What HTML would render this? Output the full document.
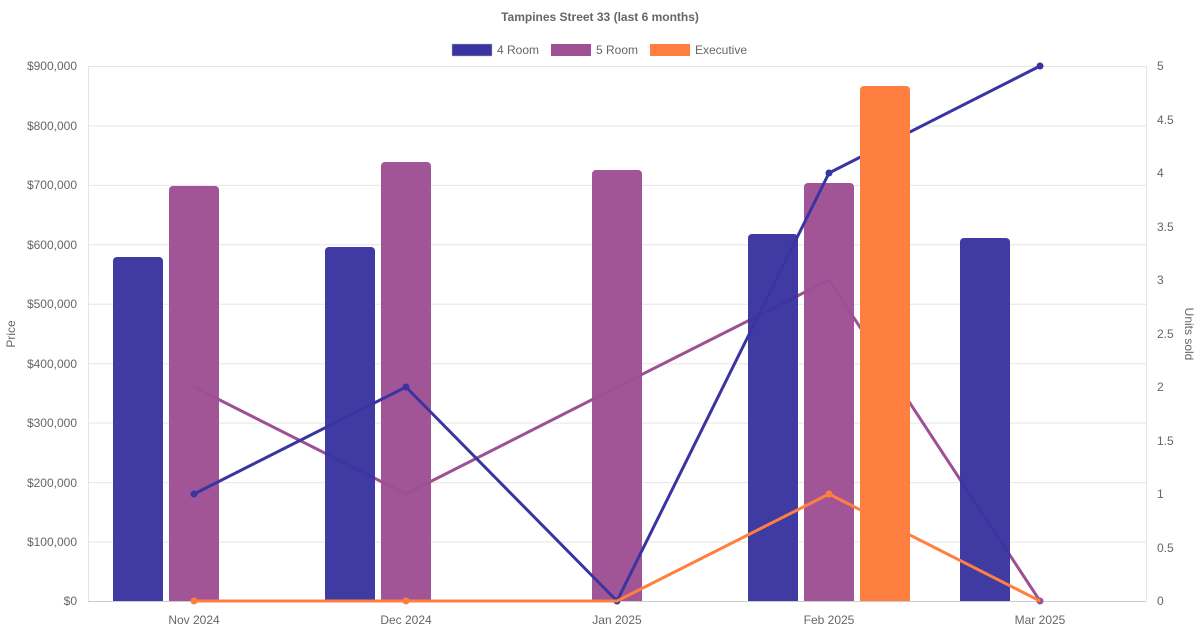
<!DOCTYPE html>
<html><head><meta charset="utf-8"><style>
body{margin:0;background:#fff}
svg{display:block;font-family:"Liberation Sans",sans-serif}
</style></head><body>
<svg width="1200" height="630" xmlns="http://www.w3.org/2000/svg">
<rect width="1200" height="630" fill="#fff"/>
<text x="600" y="21" text-anchor="middle" font-size="12" font-weight="bold" fill="#666">Tampines Street 33 (last 6 months)</text>
<g font-size="12" fill="#666">
<rect x="452" y="44" width="40" height="12" fill="#3a34a0" stroke="#bbb" stroke-width="0.5"/><text x="497" y="54">4 Room</text>
<rect x="551" y="44" width="40" height="12" fill="#9e5094"/><text x="596" y="54">5 Room</text>
<rect x="650" y="44" width="40" height="12" fill="#ff7f41"/><text x="695" y="54">Executive</text>
</g>
<g stroke="#e5e5e5" stroke-width="1">
<line x1="88" x2="1146" y1="66.5" y2="66.5"/><line x1="88" x2="1146" y1="125.9" y2="125.9"/><line x1="88" x2="1146" y1="185.4" y2="185.4"/><line x1="88" x2="1146" y1="244.8" y2="244.8"/><line x1="88" x2="1146" y1="304.2" y2="304.2"/><line x1="88" x2="1146" y1="363.7" y2="363.7"/><line x1="88" x2="1146" y1="423.1" y2="423.1"/><line x1="88" x2="1146" y1="482.6" y2="482.6"/><line x1="88" x2="1146" y1="542" y2="542"/>
<line x1="88.5" x2="88.5" y1="66" y2="601"/><line x1="1146.5" x2="1146.5" y1="66" y2="601"/>
</g>
<line x1="88" x2="1146" y1="601.5" y2="601.5" stroke="#ccc"/>
<g font-size="12" fill="#666" text-anchor="end">
<text x="77" y="70">$900,000</text><text x="77" y="130">$800,000</text><text x="77" y="189">$700,000</text><text x="77" y="249">$600,000</text><text x="77" y="308">$500,000</text><text x="77" y="368">$400,000</text><text x="77" y="427">$300,000</text><text x="77" y="487">$200,000</text><text x="77" y="546">$100,000</text><text x="77" y="605">$0</text>
</g>
<g font-size="12" fill="#666">
<text x="1157" y="70">5</text><text x="1157" y="124">4.5</text><text x="1157" y="177">4</text><text x="1157" y="231">3.5</text><text x="1157" y="284">3</text><text x="1157" y="338">2.5</text><text x="1157" y="391">2</text><text x="1157" y="445">1.5</text><text x="1157" y="498">1</text><text x="1157" y="552">0.5</text><text x="1157" y="605">0</text>
</g>
<g font-size="12" fill="#666" text-anchor="middle">
<text x="194" y="624">Nov 2024</text><text x="406" y="624">Dec 2024</text><text x="617" y="624">Jan 2025</text><text x="829" y="624">Feb 2025</text><text x="1040" y="624">Mar 2025</text>
</g>
<text transform="translate(15,334) rotate(-90)" text-anchor="middle" font-size="12" fill="#666">Price</text>
<text transform="translate(1185,334) rotate(90)" text-anchor="middle" font-size="12" fill="#666">Units sold</text>

<polyline points="194,387 406,494 617,387 829,280 1040,601" stroke="#9e5094" stroke-width="3" fill="none" stroke-linejoin="round"/>
<circle cx="1040" cy="601" r="3.5" fill="#9e5094"/>
<g fill="#9e5094" opacity="0.97">
<path d="M169,601V190a4,4 0 0 1 4,-4h42a4,4 0 0 1 4,4V601z"/>
<path d="M381,601V166a4,4 0 0 1 4,-4h42a4,4 0 0 1 4,4V601z"/>
<path d="M592,601V174a4,4 0 0 1 4,-4h42a4,4 0 0 1 4,4V601z"/>
<path d="M804,601V187a4,4 0 0 1 4,-4h42a4,4 0 0 1 4,4V601z"/>
</g>
<polyline points="194,494 406,387 617,601 829,173 1040,66" stroke="#3a34a0" stroke-width="3" fill="none" stroke-linejoin="round"/>
<g fill="#3a34a0"><circle cx="194" cy="494" r="3.5"/><circle cx="406" cy="387" r="3.5"/><circle cx="617" cy="601" r="3.5"/><circle cx="829" cy="173" r="3.5"/><circle cx="1040" cy="66" r="3.5"/></g>
<g fill="#3a34a0" opacity="0.97">
<path d="M113,601V261a4,4 0 0 1 4,-4h42a4,4 0 0 1 4,4V601z"/>
<path d="M325,601V251a4,4 0 0 1 4,-4h42a4,4 0 0 1 4,4V601z"/>
<path d="M748,601V238a4,4 0 0 1 4,-4h42a4,4 0 0 1 4,4V601z"/>
<path d="M960,601V242a4,4 0 0 1 4,-4h42a4,4 0 0 1 4,4V601z"/>
</g>
<polyline points="194,601 406,601 617,601 829,494 1040,601" stroke="#ff7f41" stroke-width="3" fill="none" stroke-linejoin="round"/>
<g fill="#ff7f41"><circle cx="194" cy="601" r="3.5"/><circle cx="406" cy="601" r="3.5"/><circle cx="829" cy="494" r="3.5"/></g>
<path fill="#ff7f41" d="M860,601V90a4,4 0 0 1 4,-4h42a4,4 0 0 1 4,4V601z"/>
</svg>
</body></html>
